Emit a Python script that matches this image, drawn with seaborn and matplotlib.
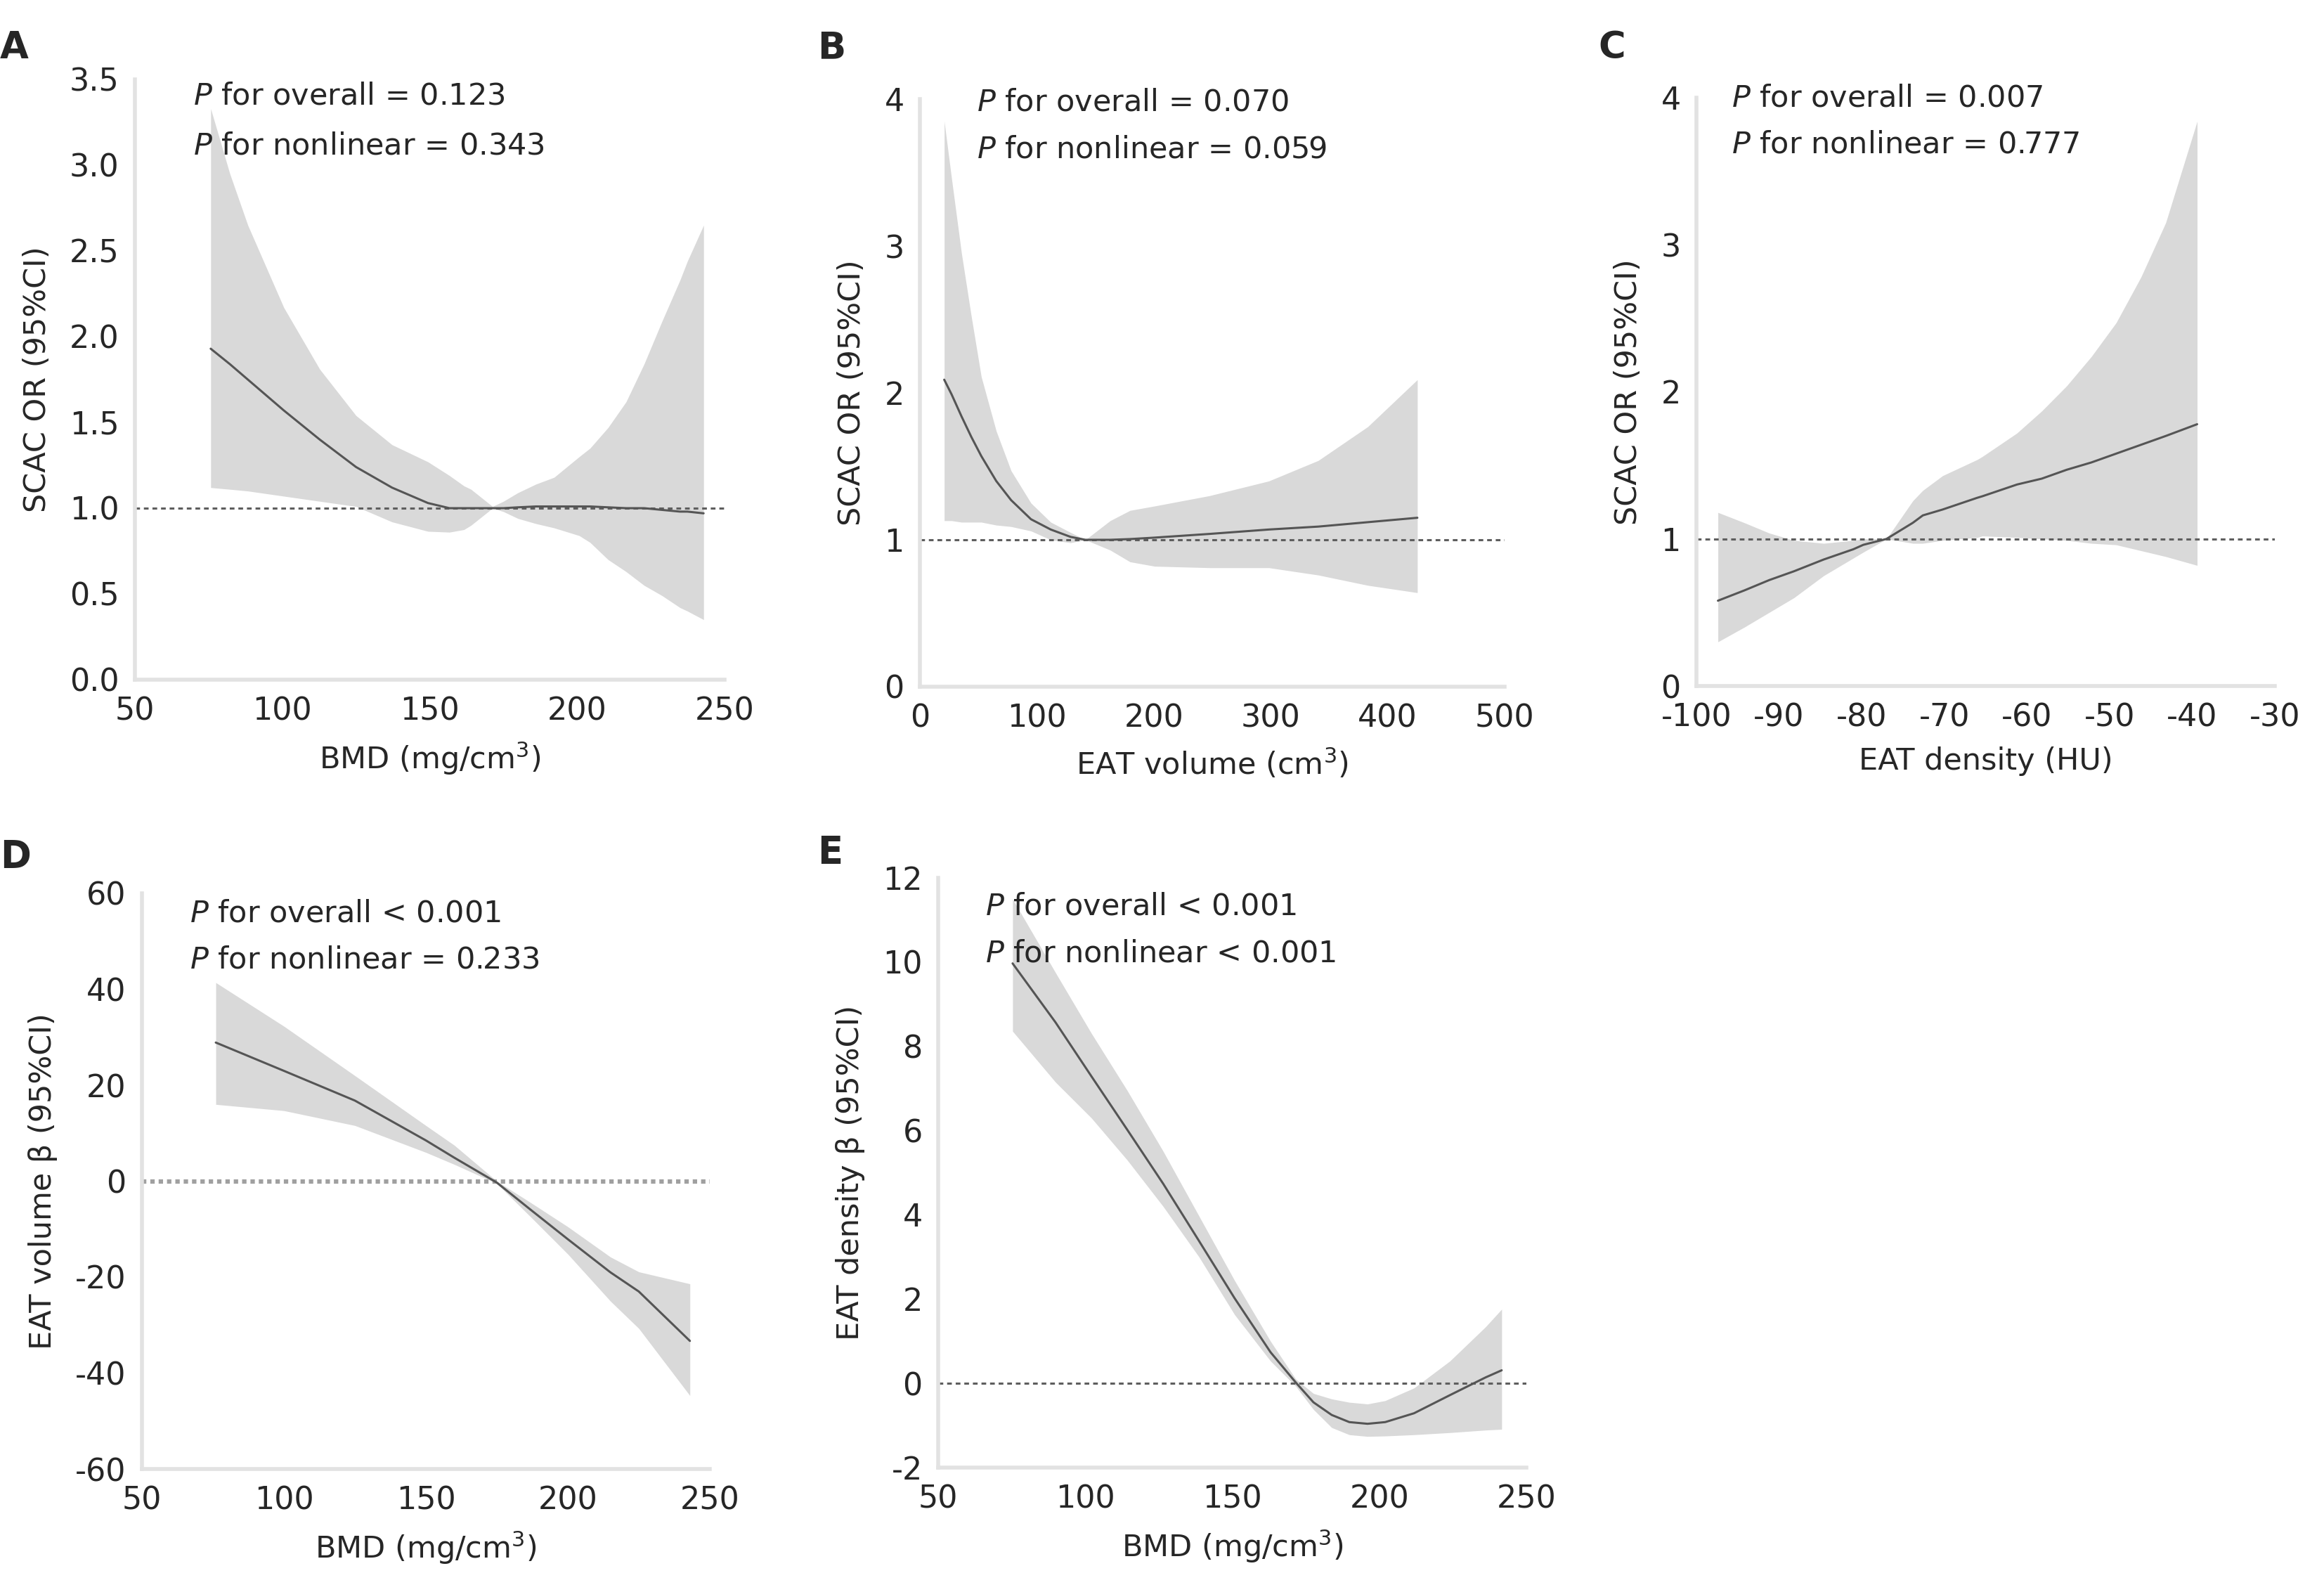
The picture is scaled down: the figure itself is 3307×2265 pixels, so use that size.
import matplotlib
matplotlib.use("Agg")
import matplotlib.pyplot as plt
import seaborn as sns

sns.set_theme(style="white")
plt.rcParams['font.family'] = ['DejaVu Sans']
plt.rcParams['mathtext.fontset'] = 'dejavusans'
plt.rcParams['axes.unicode_minus'] = False

# ---------------- data ----------------
# Panel A: SCAC OR vs BMD
a_x = [75.7, 82.2, 88.3, 100.5, 112.7, 125, 137.2, 149.4, 156.7, 161.6, 164, 171.3, 175,
       179.9, 186, 192.2, 200.7, 204.4, 210.5, 216.6, 222.7, 228.8, 234.9, 237.4, 242.9]
a_fit = [1.93, 1.84, 1.75, 1.57, 1.40, 1.24, 1.12, 1.03, 1.0, 1.0, 1.0, 1.0, 1.0,
         1.005, 1.01, 1.01, 1.01, 1.01, 1.005, 1.0, 1.0, 0.99, 0.98, 0.98, 0.97]
a_up = [3.33, 2.95, 2.65, 2.17, 1.81, 1.54, 1.37, 1.27, 1.19, 1.13, 1.11, 1.01, 1.04,
        1.09, 1.14, 1.18, 1.30, 1.35, 1.47, 1.62, 1.84, 2.09, 2.33, 2.44, 2.65]
a_lo = [1.12, 1.11, 1.10, 1.07, 1.04, 1.01, 0.92, 0.865, 0.86, 0.875, 0.90, 1.0, 0.98,
        0.94, 0.91, 0.885, 0.84, 0.80, 0.70, 0.63, 0.55, 0.49, 0.42, 0.40, 0.35]

# Panel B: SCAC OR vs EAT volume
b_x = [20.8, 27.1, 35.6, 44, 52.5, 65.3, 78, 95, 111.9, 128.8, 141.5, 162.7, 179.7,
       200.8, 247.5, 298.3, 340.7, 383, 425.4]
b_fit = [2.09, 1.99, 1.84, 1.70, 1.57, 1.40, 1.27, 1.14, 1.07, 1.02, 1.0, 1.0, 1.005,
         1.015, 1.04, 1.07, 1.09, 1.12, 1.15]
b_up = [3.85, 3.46, 2.95, 2.52, 2.11, 1.74, 1.47, 1.25, 1.12, 1.05, 1.0, 1.13, 1.20,
        1.23, 1.30, 1.40, 1.54, 1.77, 2.09]
b_lo = [1.13, 1.13, 1.12, 1.12, 1.12, 1.10, 1.09, 1.06, 1.0, 0.98, 1.0, 0.93, 0.85,
        0.82, 0.81, 0.81, 0.76, 0.69, 0.64]

# Panel C: SCAC OR vs EAT density
c_x = [-97.4, -94.2, -91.2, -88.2, -84.6, -81.0, -79.8, -77, -73.8, -72.6, -70.2, -66,
       -65.4, -61.2, -58.2, -55.2, -52.2, -49.2, -46.2, -43.2, -39.4]
c_fit = [0.58, 0.65, 0.72, 0.78, 0.86, 0.93, 0.96, 1.0, 1.11, 1.16, 1.20, 1.28,
         1.29, 1.37, 1.41, 1.47, 1.52, 1.58, 1.64, 1.70, 1.78]
c_up = [1.18, 1.11, 1.04, 0.99, 0.97, 0.99, 1.0, 1.0, 1.26, 1.33, 1.43, 1.54,
        1.56, 1.72, 1.87, 2.04, 2.24, 2.47, 2.78, 3.15, 3.84]
c_lo = [0.30, 0.40, 0.50, 0.60, 0.75, 0.87, 0.91, 1.0, 0.97, 0.97, 0.99, 1.01,
        1.02, 1.01, 1.0, 0.99, 0.97, 0.96, 0.92, 0.88, 0.82]

# Panel D: EAT volume beta vs BMD
d_x = [76, 100, 125, 150, 160, 175, 187, 200, 215, 225, 243]
d_fit = [28.9, 23.0, 16.8, 8.5, 4.9, -0.3, -6.0, -12.1, -19.0, -23.0, -33.3]
d_up = [41.4, 32.3, 22.0, 11.6, 7.5, 0.0, -4.5, -9.5, -15.8, -18.9, -21.4]
d_lo = [16.0, 14.7, 11.6, 6.0, 3.5, -0.5, -7.5, -15.2, -25.0, -30.7, -44.7]

# Panel E: EAT density beta vs BMD
e_x = [75.3, 89.9, 102.1, 114.3, 126.5, 138.7, 150.8, 163.0, 171.6, 177.6, 183.8,
       189.8, 196.0, 202.0, 211.8, 224.0, 236.1, 241.6]
e_fit = [9.97, 8.57, 7.29, 6.02, 4.74, 3.38, 2.02, 0.74, 0.02, -0.45, -0.75,
         -0.92, -0.96, -0.92, -0.71, -0.28, 0.14, 0.31]
e_up = [11.5, 9.75, 8.31, 6.95, 5.51, 3.97, 2.44, 1.0, 0.10, -0.24, -0.37,
        -0.45, -0.49, -0.41, -0.11, 0.53, 1.34, 1.76]
e_lo = [8.36, 7.15, 6.30, 5.30, 4.20, 3.0, 1.63, 0.53, -0.07, -0.62, -1.05,
        -1.22, -1.26, -1.25, -1.22, -1.17, -1.11, -1.09]

panel_letters = ["A", "B", "C", "D", "E"]
x_labels = ["BMD (mg/cm$^3$)", "EAT volume (cm$^3$)", "EAT density (HU)",
            "BMD (mg/cm$^3$)", "BMD (mg/cm$^3$)"]
y_labels = ["SCAC OR (95%CI)", "SCAC OR (95%CI)", "SCAC OR (95%CI)",
            "EAT volume β (95%CI)", "EAT density β (95%CI)"]
p_overall = ["$P$ for overall = 0.123", "$P$ for overall = 0.070", "$P$ for overall = 0.007",
             "$P$ for overall < 0.001", "$P$ for overall < 0.001"]
p_nonlin = ["$P$ for nonlinear = 0.343", "$P$ for nonlinear = 0.059", "$P$ for nonlinear = 0.777",
            "$P$ for nonlinear = 0.233", "$P$ for nonlinear < 0.001"]
ref_values = [1, 1, 1, 0, 0]
x_ticks = [[50, 100, 150, 200, 250], [0, 100, 200, 300, 400, 500],
           [-100, -90, -80, -70, -60, -50, -40, -30],
           [50, 100, 150, 200, 250], [50, 100, 150, 200, 250]]
y_ticks = [[0.0, 0.5, 1.0, 1.5, 2.0, 2.5, 3.0, 3.5], [0, 1, 2, 3, 4], [0, 1, 2, 3, 4],
           [-60, -40, -20, 0, 20, 40, 60], [-2, 0, 2, 4, 6, 8, 10, 12]]

series = [(a_x, a_fit, a_up, a_lo), (b_x, b_fit, b_up, b_lo), (c_x, c_fit, c_up, c_lo),
          (d_x, d_fit, d_up, d_lo), (e_x, e_fit, e_up, e_lo)]

# ---------------- layout ----------------
W, H = 3307, 2265
fig = plt.figure(figsize=(W / 100, H / 100), dpi=100)


def box(l, r, t, b):
    return [l / W, 1 - b / H, (r - l) / W, (b - t) / H]


rects = [box(192, 1031, 113, 967), box(1309, 2141, 141, 977), box(2414, 3237, 139, 976),
         box(202, 1010, 1271, 2090), box(1335, 2172, 1249, 2088)]
text_pos = [(0.099, 0.972, 0.889), (0.097, 0.995, 0.915), (0.061, 1.0, 0.92),
            (0.084, 0.965, 0.885), (0.080, 0.952, 0.872)]
letter_pos = [(0, 68), (1163, 68), (2274, 68), (0, 1219), (1163, 1213)]

spine_col = "#e2e2e2"
fill_col = "#d9d9d9"
line_col = "#555555"
FS = 31

for i, rect in enumerate(rects):
    ax = fig.add_axes(rect)
    xs, fit, up, lo = series[i]
    ax.fill_between(xs, lo, up, color=fill_col, linewidth=0, zorder=1)
    if i == 3:
        ax.axhline(ref_values[i], color="#a0a0a0", linestyle=(0, (1.0, 0.9)), linewidth=4.5, zorder=2)
    else:
        ax.axhline(ref_values[i], color="#5e5e5e", linestyle=(0, (2.2, 1.8)), linewidth=2.2, zorder=2)
    sns.lineplot(x=xs, y=fit, ax=ax, color=line_col, linewidth=2.2, zorder=3)

    ax.set_xlim(x_ticks[i][0], x_ticks[i][-1])
    ax.set_ylim(y_ticks[i][0], y_ticks[i][-1])
    ax.set_xticks(x_ticks[i])
    ax.set_yticks(y_ticks[i])
    if i == 0:
        ax.set_yticklabels([f"{v:.1f}" for v in y_ticks[i]])
    for s in ["top", "right"]:
        ax.spines[s].set_visible(False)
    for s in ["left", "bottom"]:
        ax.spines[s].set_color(spine_col)
        ax.spines[s].set_linewidth(4)
    ax.tick_params(axis="x", length=5, width=2, color=spine_col, pad=12, labelsize=FS + 1, direction="out")
    ax.tick_params(axis="y", length=0, pad=16, labelsize=FS + 1)
    ax.set_xlabel(x_labels[i], fontsize=FS, labelpad=14)
    ax.set_ylabel(y_labels[i], fontsize=FS, labelpad=18)
    ax.grid(False)
    ax.set_facecolor("white")

    tx, ty1, ty2 = text_pos[i]
    ax.text(tx, ty1, p_overall[i], transform=ax.transAxes, fontsize=FS, va="center", ha="left", zorder=5)
    ax.text(tx, ty2, p_nonlin[i], transform=ax.transAxes, fontsize=FS, va="center", ha="left", zorder=5)

    lx, ly = letter_pos[i]
    fig.text(lx / W, 1 - ly / H, panel_letters[i], fontsize=38, fontweight="bold", va="center", ha="left")

fig.savefig("out.png", dpi=100, facecolor="white")
